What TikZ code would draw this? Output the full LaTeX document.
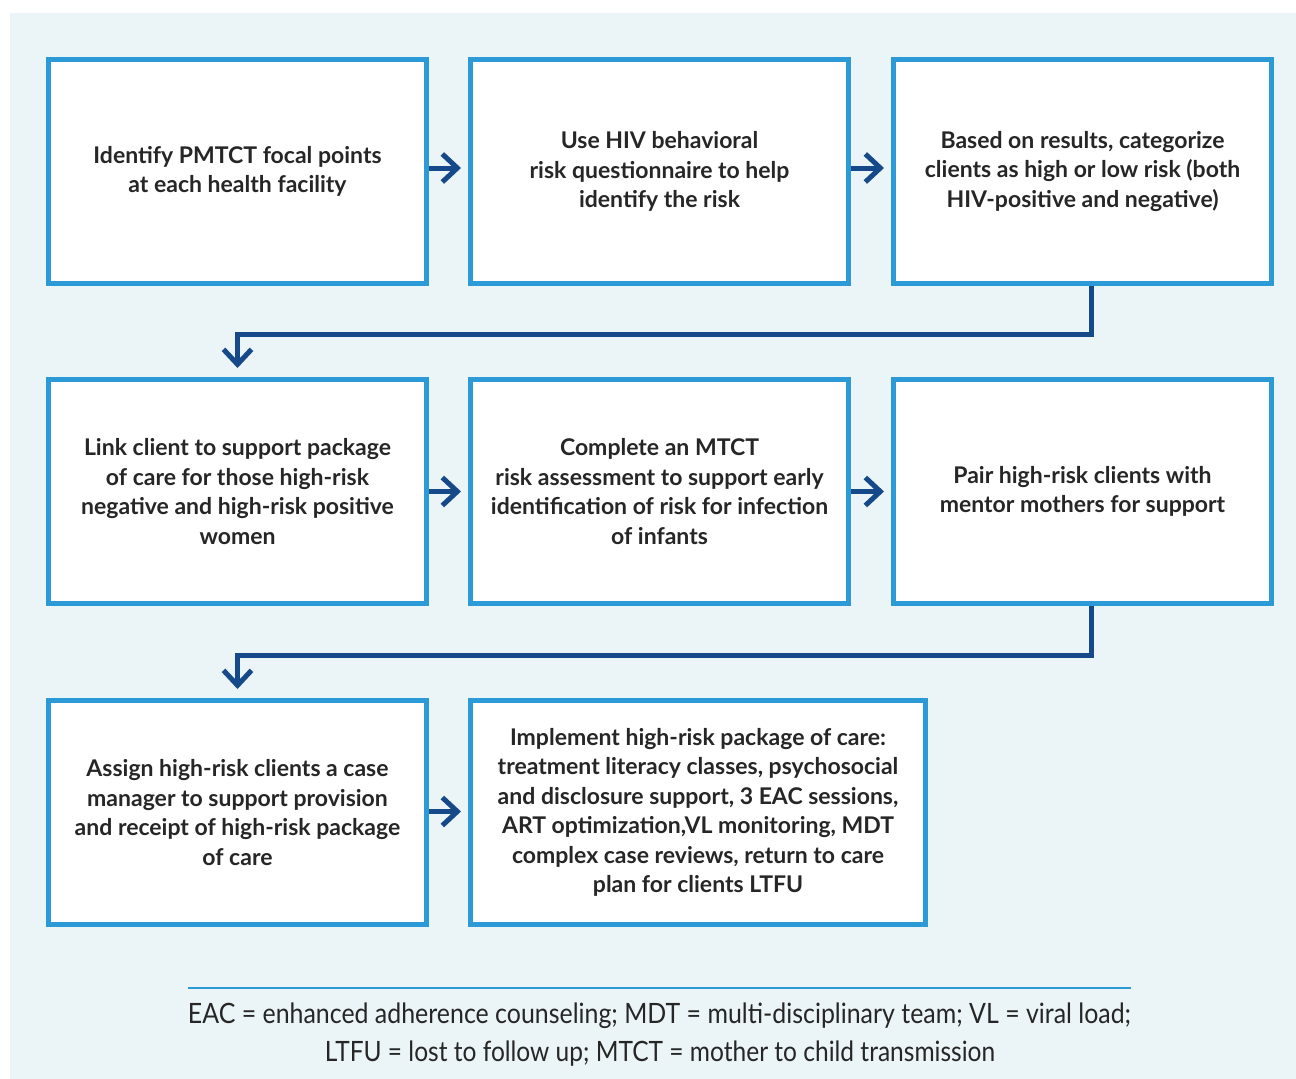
\documentclass[tikz,border=0pt]{standalone}
\usepackage{fontspec}
\setmainfont{Lato}
\usetikzlibrary{arrows.meta}
\definecolor{bgc}{HTML}{EBF4F6}
\definecolor{boxblue}{HTML}{2B9AD6}
\definecolor{arrblue}{HTML}{15498A}
\tikzset{
  box/.style={draw=boxblue, line width=5pt, fill=white, align=center, inner sep=0pt,
    minimum width=378pt, minimum height=224pt,
    font=\bfseries\fontsize{23}{29.5}\selectfont, text=black!85},
  arr/.style={draw=arrblue, line width=5pt, line join=miter,
    -{Straight Barb[length=15pt,width=28pt,line width=5pt]}},
  foot/.style={inner sep=0pt, text=black!85}
}
\begin{document}
\begin{tikzpicture}[x=1pt,y=-1pt]
\useasboundingbox (0,0) rectangle (1296,1079);
\fill[bgc] (10,13) rectangle (1296,1079);
% row 1
\node[box] (b1) at (237.5,171.5) {Identify PMTCT focal points\\at each health facility};
\node[box] (b2) at (659.5,171.5) {Use HIV behavioral\\risk questionnaire to help\\identify the risk};
\node[box] (b3) at (1082.5,171.5) {Based on results, categorize\\clients as high or low risk (both\\HIV-positive and negative)};
% row 2
\node[box] (b4) at (237.5,491.5) {Link client to support package\\of care for those high-risk\\negative and high-risk positive\\women};
\node[box] (b5) at (659.5,491.5) {Complete an MTCT\\risk assessment to support early\\identification of risk for infection\\of infants};
\node[box] (b6) at (1082.5,491.5) {Pair high-risk clients with\\mentor mothers for support};
% row 3
\node[box] (b7) at (237.5,812.5) {Assign high-risk clients a case\\manager to support provision\\and receipt of high-risk package\\of care};
\node[box, minimum width=455pt] (b8) at (698,812.5) {Implement high-risk package of care:\\treatment literacy classes, psychosocial\\and disclosure support, 3 EAC sessions,\\ART optimization,VL monitoring, MDT\\complex case reviews, return to care\\plan for clients LTFU};
% connectors
\draw[arr, shorten >=7pt] ([yshift=3.5pt]b1.east) -- ([yshift=3.5pt]b2.west);
\draw[arr, shorten >=7pt] ([yshift=3.5pt]b2.east) -- ([yshift=3.5pt]b3.west);
\draw[arr, shorten >=7pt] (b4.east) -- (b5.west);
\draw[arr, shorten >=7pt] (b5.east) -- (b6.west);
\draw[arr, shorten >=7pt] ([yshift=1pt]b7.east) -- ([yshift=1pt]b8.west);
\draw[arr, shorten >=9pt] ([xshift=8.5pt]b3.south) -- ++(0,48) -| (b4.north);
\draw[arr, shorten >=9pt] ([xshift=8.5pt]b6.south) -- ++(0,49) -| (b7.north);
% footer
\draw[boxblue, line width=2pt] (188,988) -- (1131,988);
\node[foot] (f1) at (659.5,1016) {\resizebox{943pt}{\height}{\fontsize{28}{30}\selectfont EAC = enhanced adherence counseling; MDT = multi-disciplinary team; VL = viral load;}};
\node[foot] (f2) at (660,1054) {\resizebox{670pt}{\height}{\fontsize{28}{30}\selectfont LTFU = lost to follow up; MTCT = mother to child transmission}};
\end{tikzpicture}
\end{document}
